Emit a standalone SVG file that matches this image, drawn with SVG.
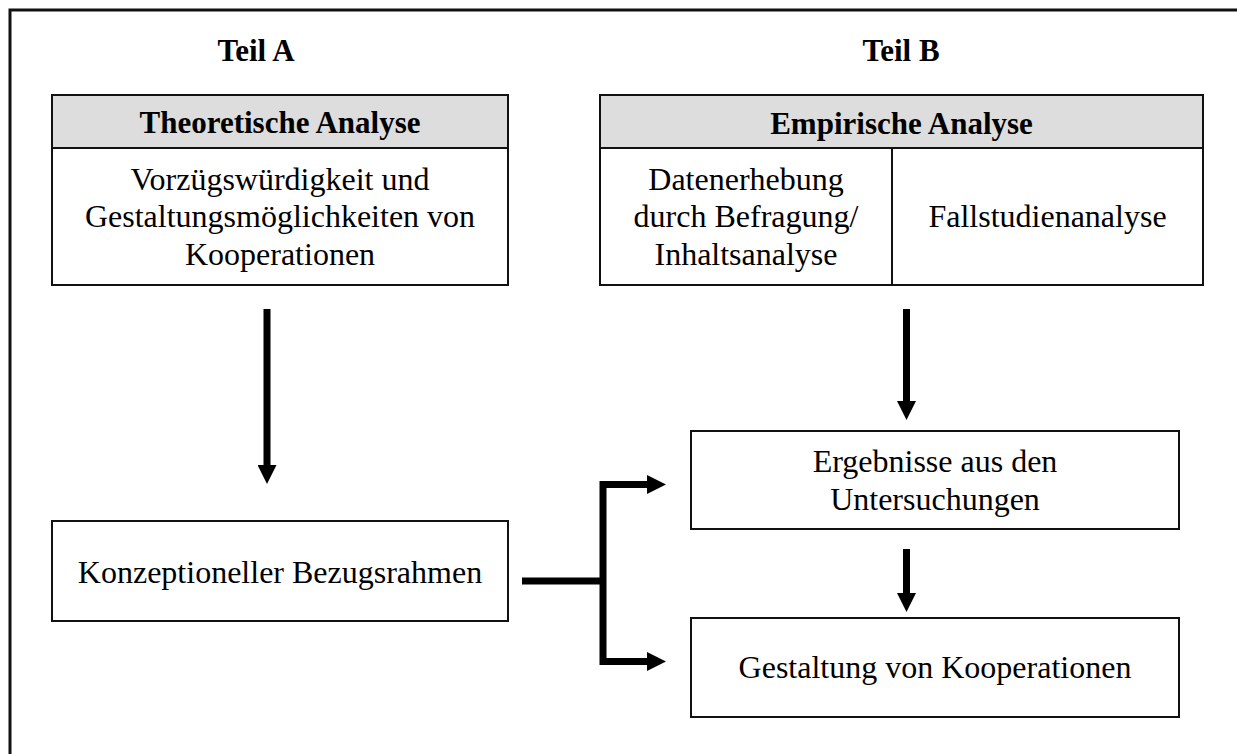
<svg xmlns="http://www.w3.org/2000/svg" width="1237" height="754" viewBox="0 0 1237 754">
  <style>
    .box { fill: #ffffff; stroke: #111111; stroke-width: 2; }
    .head { fill: #dddddd; stroke: #111111; stroke-width: 2; }
    .sep { stroke: #111111; stroke-width: 2; fill: none; }
    .t { font-family: "Liberation Serif", "Times New Roman", serif; font-size: 32px; fill: #000000; text-anchor: middle; }
    .b { font-family: "Liberation Serif", "Times New Roman", serif; font-size: 31px; font-weight: bold; fill: #000000; text-anchor: middle; }
    .wire { fill: none; stroke: #000000; stroke-width: 7; stroke-linejoin: miter; }
  </style>
  <defs>
    <marker id="arrow" viewBox="0 0 19 19" refX="0" refY="9.5" markerWidth="19" markerHeight="19" markerUnits="userSpaceOnUse" orient="auto">
      <path d="M0,0 L19,9.5 L0,19 Z" fill="#000000"/>
    </marker>
  </defs>

  <rect width="1237" height="754" fill="#ffffff"/>

  <!-- outer frame, running past the right and bottom edges -->
  <rect x="10" y="10" width="1250" height="770" fill="none" stroke="#111111" stroke-width="3"/>

  <!-- part titles -->
  <text class="b" x="256" y="61">Teil A</text>
  <text class="b" x="901" y="61">Teil B</text>

  <!-- theoretical analysis -->
  <g id="theorie">
    <rect class="box" x="52" y="95" width="456" height="190"/>
    <rect class="head" x="52" y="95" width="456" height="53"/>
    <text class="b" x="280" y="133">Theoretische Analyse</text>
    <text class="t" x="280" y="190">Vorzügswürdigkeit und</text>
    <text class="t" x="280" y="227">Gestaltungsmöglichkeiten von</text>
    <text class="t" x="280" y="265">Kooperationen</text>
  </g>

  <!-- empirical analysis -->
  <g id="empirie">
    <rect class="box" x="600" y="95" width="603" height="190"/>
    <rect class="head" x="600" y="95" width="603" height="53"/>
    <line class="sep" x1="892" y1="148" x2="892" y2="285"/>
    <text class="b" x="901.5" y="134">Empirische Analyse</text>
    <text class="t" x="746" y="190">Datenerhebung</text>
    <text class="t" x="746" y="227">durch Befragung/</text>
    <text class="t" x="746" y="265">Inhaltsanalyse</text>
    <text class="t" x="1047.5" y="227">Fallstudienanalyse</text>
  </g>

  <g id="bezugsrahmen">
    <rect class="box" x="52" y="521" width="456" height="100"/>
    <text class="t" x="280" y="583">Konzeptioneller Bezugsrahmen</text>
  </g>

  <g id="ergebnisse">
    <rect class="box" x="691" y="431" width="488" height="98"/>
    <text class="t" x="935" y="472">Ergebnisse aus den</text>
    <text class="t" x="935" y="510">Untersuchungen</text>
  </g>

  <g id="gestaltung">
    <rect class="box" x="691" y="618" width="488" height="99"/>
    <text class="t" x="935" y="678">Gestaltung von Kooperationen</text>
  </g>

  <g id="connectors">
    <path class="wire" d="M267,309 V465" marker-end="url(#arrow)"/>
    <path class="wire" d="M906.5,309 V401" marker-end="url(#arrow)"/>
    <path class="wire" d="M906.5,549 V593" marker-end="url(#arrow)"/>
    <path class="wire" d="M522,581 H603"/>
    <path class="wire" d="M647,484.5 H603 V661.5 H647" marker-end="url(#arrow)"/>
    <path class="wire" d="M603,484.5 H647" marker-end="url(#arrow)"/>
  </g>
</svg>
